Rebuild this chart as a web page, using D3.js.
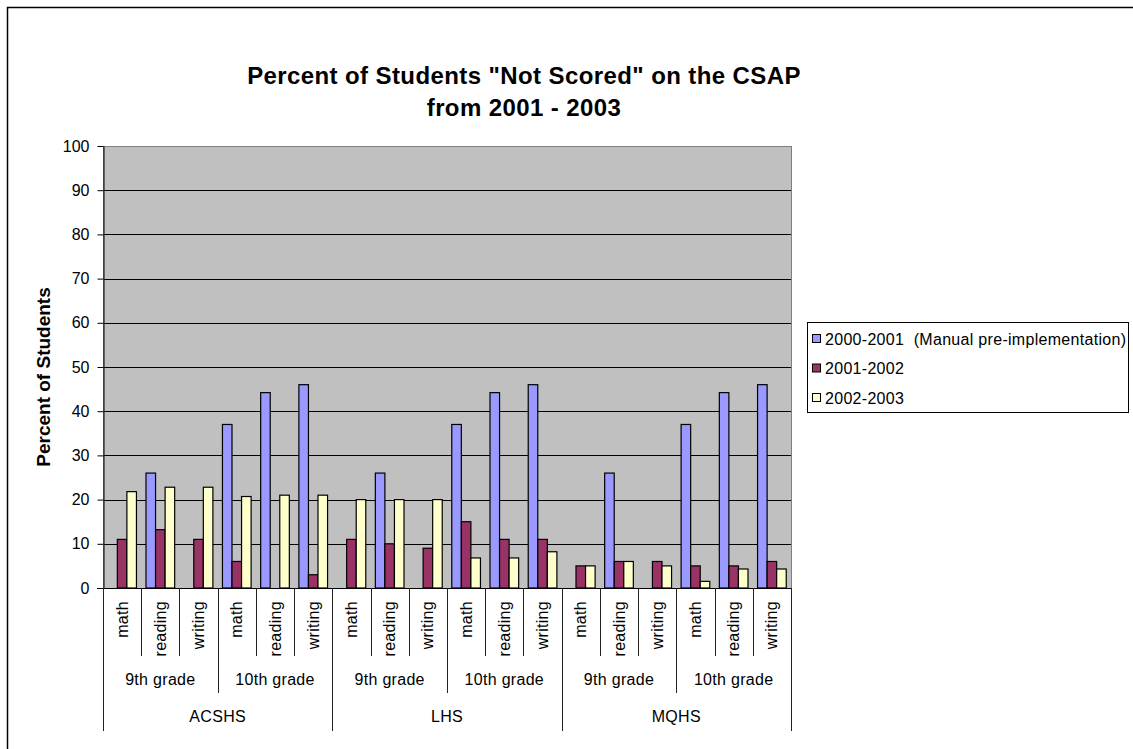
<!DOCTYPE html>
<html>
<head>
<meta charset="utf-8">
<script src="https://cdn.jsdelivr.net/npm/d3@7"></script>
<style>
  html, body { margin: 0; padding: 0; background: #fff; }
  svg { display: block; font-family: "Liberation Sans", Arial, sans-serif; }
</style>
</head>
<body>
<svg id="chart" width="1133" height="749"></svg>
<script>
// ---- data ----
const schools = ["ACSHS", "LHS", "MQHS"];
const grades = ["9th grade", "10th grade"];
const subjects = ["math", "reading", "writing"];
const seriesNames = ["2000-2001 (Manual pre-implementation)", "2001-2002", "2002-2003"];
const seriesColors = ["#9999FF", "#993366", "#FFFFCC"];
const yTicks = [0, 10, 20, 30, 40, 50, 60, 70, 80, 90, 100];

// values in category order: school > grade > subject (null = no bar)
const values2000 = [null, 26, null, 37, 44.2, 46,  null, 26, null, 37, 44.2, 46,  null, 26, null, 37, 44.2, 46];
const values2001 = [11, 13.2, 11, 6, null, 3,      11, 10, 9, 15, 11, 11,         5, 6, 6, 5, 5, 6];
const values2002 = [21.8, 22.8, 22.8, 20.7, 21, 21, 20, 20, 20, 6.8, 6.8, 8.2,    5, 6, 5, 1.5, 4.3, 4.3];
const seriesValues = [values2000, values2001, values2002];

const titleLines = ["Percent of Students \"Not Scored\" on the CSAP", "from 2001 - 2003"];
const yTitle = "Percent of Students";

// ---- build categories ----
const cats = [];
schools.forEach(s => grades.forEach(g => subjects.forEach(sub => cats.push({school: s, grade: g, subject: sub, key: s + "|" + g + "|" + sub}))));

const svg = d3.select("#chart");
const L = 103, R = 791, T = 146, B = 588;

// chart border
svg.append("rect").attr("x", 7.5).attr("y", 7.5).attr("width", 1140).attr("height", 760)
  .attr("fill", "#fff").attr("stroke", "#000").attr("stroke-width", 1.5);

const x = d3.scaleBand().domain(cats.map(c => c.key)).range([L, R]).paddingInner(0).paddingOuter(0);
const xs = d3.scaleBand().domain(seriesNames).range([0, x.bandwidth()]).paddingInner(0).paddingOuter(0.5);
const y = d3.scaleLinear().domain([0, 100]).range([B, T]);

// plot background
svg.append("rect").attr("x", L).attr("y", T).attr("width", R - L).attr("height", B - T).attr("fill", "#C0C0C0");

// gridlines
svg.append("g").selectAll("line").data(yTicks.filter(t => t > 0 && t < 100)).join("line")
  .attr("x1", L).attr("x2", R)
  .attr("y1", d => Math.round(y(d)) + 0.5).attr("y2", d => Math.round(y(d)) + 0.5)
  .attr("stroke", "#000").attr("stroke-width", 1);

// plot border (gray)
svg.append("rect").attr("x", L + 0.5).attr("y", T + 0.5).attr("width", R - L).attr("height", B - T)
  .attr("fill", "none").attr("stroke", "#808080").attr("stroke-width", 1);

// bars
seriesNames.forEach((name, si) => {
  const data = cats.map((c, i) => ({c, v: seriesValues[si][i]})).filter(d => d.v != null);
  svg.append("g").selectAll("rect").data(data).join("rect")
    .attr("x", d => x(d.c.key) + xs(name))
    .attr("y", d => y(d.v))
    .attr("width", xs.bandwidth())
    .attr("height", d => y(0) - y(d.v))
    .attr("fill", seriesColors[si])
    .attr("stroke", "#000").attr("stroke-width", 1.2);
});

// y axis
const yAxis = d3.axisLeft(y).tickValues(yTicks).tickSize(6).tickPadding(8).tickSizeOuter(0);
const ya = svg.append("g").attr("transform", `translate(${L + 0.5},0)`).call(yAxis);
ya.select(".domain").attr("stroke", "#000");
ya.selectAll(".tick line").attr("stroke", "#000");
ya.selectAll(".tick text").attr("font-size", 16).attr("fill", "#000")
  .attr("font-family", "Liberation Sans, Arial, sans-serif");

// x axis baseline
svg.append("line").attr("x1", L - 6).attr("x2", R).attr("y1", B + 0.5).attr("y2", B + 0.5)
  .attr("stroke", "#000").attr("stroke-width", 1);

// category dividers
const lvl = svg.append("g").attr("stroke", "#222").attr("stroke-width", 1);
const subjEnd = 656, gradeEnd = 693, schoolEnd = 731;
cats.forEach((c, i) => {
  const xx = Math.round(x(c.key)) + 0.5;
  let y2 = subjEnd;
  if (i % 3 === 0) y2 = gradeEnd;
  if (i % 6 === 0) y2 = schoolEnd;
  lvl.append("line").attr("x1", xx).attr("x2", xx).attr("y1", B).attr("y2", y2);
});
lvl.append("line").attr("x1", R + 0.5).attr("x2", R + 0.5).attr("y1", B).attr("y2", schoolEnd);

// subject labels (rotated)
svg.append("g").selectAll("text").data(cats).join("text")
  .attr("transform", d => `translate(${x(d.key) + x.bandwidth() / 2},601) rotate(-90)`)
  .attr("text-anchor", "end").attr("dy", "0.35em")
  .attr("font-size", 16).attr("letter-spacing", 0.3).text(d => d.subject);

// grade labels
const gradeGroups = [];
schools.forEach(s => grades.forEach(g => gradeGroups.push({s, g})));
svg.append("g").selectAll("text").data(gradeGroups).join("text")
  .attr("x", d => {
    const k0 = d.s + "|" + d.g + "|" + subjects[0];
    const k1 = d.s + "|" + d.g + "|" + subjects[subjects.length - 1];
    return (x(k0) + x(k1) + x.bandwidth()) / 2;
  })
  .attr("y", 685).attr("text-anchor", "middle").attr("font-size", 16).attr("letter-spacing", 0.3)
  .text(d => d.g);

// school labels
svg.append("g").selectAll("text").data(schools).join("text")
  .attr("x", s => {
    const k0 = s + "|" + grades[0] + "|" + subjects[0];
    const k1 = s + "|" + grades[grades.length - 1] + "|" + subjects[subjects.length - 1];
    return (x(k0) + x(k1) + x.bandwidth()) / 2;
  })
  .attr("y", 722).attr("text-anchor", "middle").attr("font-size", 16).attr("letter-spacing", 0.3)
  .text(s => s);

// y axis title
svg.append("text").attr("transform", "translate(50,377) rotate(-90)")
  .attr("text-anchor", "middle").attr("font-size", 19).attr("font-weight", "bold")
  .text(yTitle);

// title
svg.append("g").selectAll("text").data(titleLines).join("text")
  .attr("x", 524).attr("y", (d, i) => 84 + i * 32)
  .attr("text-anchor", "middle").attr("font-size", 24).attr("font-weight", "bold").attr("letter-spacing", 0.4)
  .text(d => d);

// legend
const lg = svg.append("g");
lg.append("rect").attr("x", 807.5).attr("y", 322.5).attr("width", 321).attr("height", 90)
  .attr("fill", "#fff").attr("stroke", "#000").attr("stroke-width", 1);
seriesNames.forEach((name, i) => {
  const cy = 339 + i * 29.5;
  lg.append("rect").attr("x", 812.5).attr("y", cy - 4.5).attr("width", 8).attr("height", 8)
    .attr("fill", seriesColors[i]).attr("stroke", "#000").attr("stroke-width", 1);
  lg.append("text").attr("x", 825).attr("y", cy).attr("dy", "0.36em")
    .attr("font-size", 16).attr("letter-spacing", 0.3)
    .text(name.replace("2001 (", "2001  (")).attr("xml:space", "preserve");
});
</script>
</body>
</html>
